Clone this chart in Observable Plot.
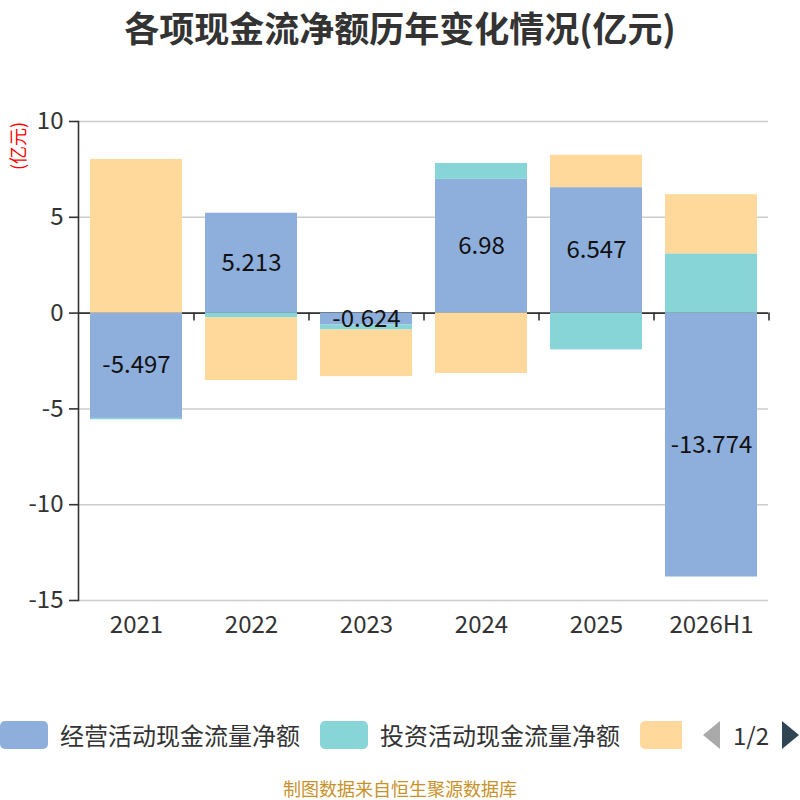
<!DOCTYPE html>
<html>
<head>
<meta charset="utf-8">
<script src="https://cdn.jsdelivr.net/npm/d3@7"></script>
<script src="https://cdn.jsdelivr.net/npm/@observablehq/plot@0.6"></script>
<style>
  html, body { margin: 0; padding: 0; background: #fff; }
  body { font-family: 'Noto Sans CJK SC', 'Noto Sans', sans-serif; }
  #wrap { position: relative; width: 800px; height: 800px; overflow: hidden; }
  #title { position: absolute; left: 0; top: 4px; width: 800px; text-align: center; font-size: 35px; font-weight: bold; color: #333; line-height: 46px; }
  #chart { position: absolute; left: 0; top: 0; }
  #unit { position: absolute; left: 17px; top: 146px; transform: translate(-50%, -50%) rotate(-90deg); color: #f00; font-size: 18px; white-space: nowrap; line-height: 18px; }
  .sw { position: absolute; top: 721px; height: 28px; border-radius: 5px; }
  .lt { position: absolute; top: 735px; transform: translateY(-50%); font-size: 24px; color: #333; white-space: nowrap; line-height: 28px; }
  #caption { position: absolute; left: 0; top: 778px; width: 800px; text-align: center; font-size: 18px; color: #c8922a; line-height: 21px; }
  #pager { position: absolute; left: 726px; top: 735px; transform: translateY(-50%); width: 50px; text-align: center; font-size: 24px; color: #333; line-height: 30px; white-space: nowrap; }
</style>
</head>
<body>
<div id="wrap">
  <div id="title"></div>
  <div id="chart"></div>
  <div id="unit"></div>
  <div id="legend"></div>
  <div id="pager"></div>
  <div id="caption"></div>
</div>
<script>
const titleText = "各项现金流净额历年变化情况(亿元)";
const unitText = "(亿元)";
const captionText = "制图数据来自恒生聚源数据库";
const categories = ["2021", "2022", "2023", "2024", "2025", "2026H1"];
const seriesNames = ["经营活动现金流量净额", "投资活动现金流量净额", "筹资活动现金流量净额"];
const seriesColors = ["#8eaedb", "#88d5d8", "#fed99b"];
const operating = [-5.497, 5.213, -0.624, 6.98, 6.547, -13.774];
const investing = [-0.07, -0.25, -0.26, 0.83, -1.92, 3.09];
const financing = [8.02, -3.27, -2.43, -3.15, 1.69, 3.09];
const yTicks = [10, 5, 0, -5, -10, -15];
const pageLabel = "1/2";

document.getElementById("title").textContent = titleText;
document.getElementById("unit").textContent = unitText;
document.getElementById("caption").textContent = captionText;
document.getElementById("pager").textContent = pageLabel;

const seriesValues = [operating, investing, financing];
const rows = [];
seriesNames.forEach((s, si) => {
  categories.forEach((c, ci) => rows.push({ year: c, series: s, value: seriesValues[si][ci] }));
});
const opRows = rows.filter(d => d.series === seriesNames[0]);

const font = "'Noto Sans CJK SC', 'Noto Sans', sans-serif";
const chart = Plot.plot({
  width: 800,
  height: 660,
  marginTop: 121,
  marginBottom: 60,
  marginLeft: 78,
  marginRight: 32,
  style: { fontFamily: font, background: "transparent", color: "#333" },
  x: { domain: categories, paddingInner: 0.2, paddingOuter: 0.1, label: null },
  y: { domain: [-15, 10], label: null },
  color: { domain: seriesNames, range: seriesColors },
  marks: [
    Plot.gridY(yTicks, { stroke: "#cccccc", strokeOpacity: 1, strokeWidth: 1.5 }),
    Plot.ruleY([0], { stroke: "#333", strokeWidth: 1.6 }),
    Plot.ruleX(categories, { x: d => d, y1: 0, y2: 0, insetBottom: -8, dx: 57.5, stroke: "#333", strokeWidth: 1.6 }),
    Plot.frame({ anchor: "left", stroke: "#333", strokeWidth: 1.6 }),
    Plot.barY(rows, Plot.stackY({ x: "year", y: "value", fill: "series" })),
    Plot.text(opRows, { x: "year", y: d => d.value / 2, text: d => String(d.value), fontSize: 24, fill: "#111" }),
    Plot.axisY(yTicks, { tickSize: 9, tickPadding: 6, fontSize: 24, stroke: "#333", strokeWidth: 1.6, fill: "#333", tickFormat: d => String(d) }),
    Plot.axisX({ anchor: "bottom", tickSize: 0, tickPadding: 15, fontSize: 24, fill: "#333" })
  ]
});
document.getElementById("chart").appendChild(chart);

// legend
const legend = document.getElementById("legend");
const swLeft = [0, 320, 640];
const swWidth = [48, 48, 42];
seriesNames.forEach((s, i) => {
  const sw = document.createElement("div");
  sw.className = "sw";
  sw.style.left = swLeft[i] + "px";
  sw.style.width = swWidth[i] + "px";
  sw.style.background = seriesColors[i];
  if (i === 2) { sw.style.borderTopRightRadius = "0"; sw.style.borderBottomRightRadius = "0"; }
  legend.appendChild(sw);
  if (i < 2) {
    const t = document.createElement("div");
    t.className = "lt";
    t.style.left = (swLeft[i] + 60) + "px";
    t.textContent = s;
    legend.appendChild(t);
  }
});
const ns = "http://www.w3.org/2000/svg";
const nav = document.createElementNS(ns, "svg");
nav.setAttribute("width", "100");
nav.setAttribute("height", "30");
nav.style.position = "absolute";
nav.style.left = "700px";
nav.style.top = "720px";
const la = document.createElementNS(ns, "path");
la.setAttribute("d", "M20,1 L20,29 L3,15 Z");
la.setAttribute("fill", "#aaaaaa");
nav.appendChild(la);
const ra = document.createElementNS(ns, "path");
ra.setAttribute("d", "M82,1 L82,29 L99,15 Z");
ra.setAttribute("fill", "#2f4554");
nav.appendChild(ra);
legend.appendChild(nav);
</script>
</body>
</html>
